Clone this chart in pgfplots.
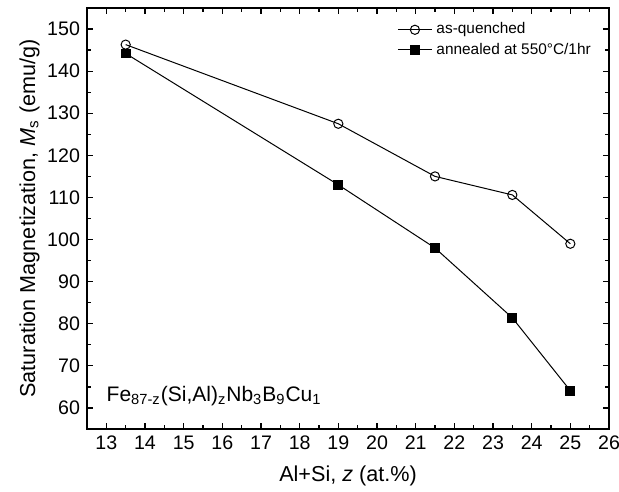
\documentclass[border=0pt]{standalone}
\usepackage{pgfplots}
\pgfplotsset{compat=1.18}
\usepackage{fontspec}
\setmainfont{Liberation Sans}
\begin{document}
\begin{tikzpicture}
\begin{axis}[
  scale only axis,
  width=261pt, height=210.5pt,
  xmin=12.5, xmax=26, ymin=55, ymax=155,
  xtick={13,14,...,26}, ytick={60,70,...,150},
  minor x tick num=1, minor y tick num=1,
  tick align=inside,
  major tick length=3pt, minor tick length=2pt,
  axis line style={line width=1pt},
  every tick/.style={black, line width=0.6pt},
  tick label style={font=\fontsize{9.8}{11}\selectfont},
  /pgf/number format/assume math mode=true,
  xlabel={Al+Si, \textit{z} (at.\%)},
  ylabel={Saturation Magnetization, \textit{M}\textsubscript{s} (emu/g)},
  label style={font=\fontsize{10.8}{12}\selectfont},
  xlabel style={yshift=-1pt},
  ylabel style={yshift=-3pt},
  legend style={draw=none, fill=none, at={(0.985,0.985)}, anchor=north east,
    font=\fontsize{7.7}{9}\selectfont, row sep=-1pt},
  legend cell align=left,
]
\addplot[black, line width=0.5pt, mark=o, mark size=2.3pt, mark options={fill=white, line width=0.5pt}]
  coordinates {(13.5,146.3) (19,127.5) (21.5,115) (23.5,110.6) (25,99)};
\addlegendentry{as-quenched}
\addplot[black, line width=0.5pt, mark=square*, mark size=2.2pt]
  coordinates {(13.5,144.2) (19,113) (21.5,98) (23.5,81.4) (25,64.1)};
\addlegendentry{annealed at 550°C/1hr}
\node[anchor=base west, font=\fontsize{10.5}{12}\selectfont, inner sep=0pt] at (axis cs:13.0,61.5)
  {Fe\textsubscript{87-z}(Si,Al)\textsubscript{z}Nb\textsubscript{3}B\textsubscript{9}Cu\textsubscript{1}};
\end{axis}
\pgfresetboundingbox
\useasboundingbox ([xshift=-43.5pt,yshift=-31pt]current axis.south west) rectangle ([xshift=5pt,yshift=4pt]current axis.north east);
\end{tikzpicture}
\end{document}
